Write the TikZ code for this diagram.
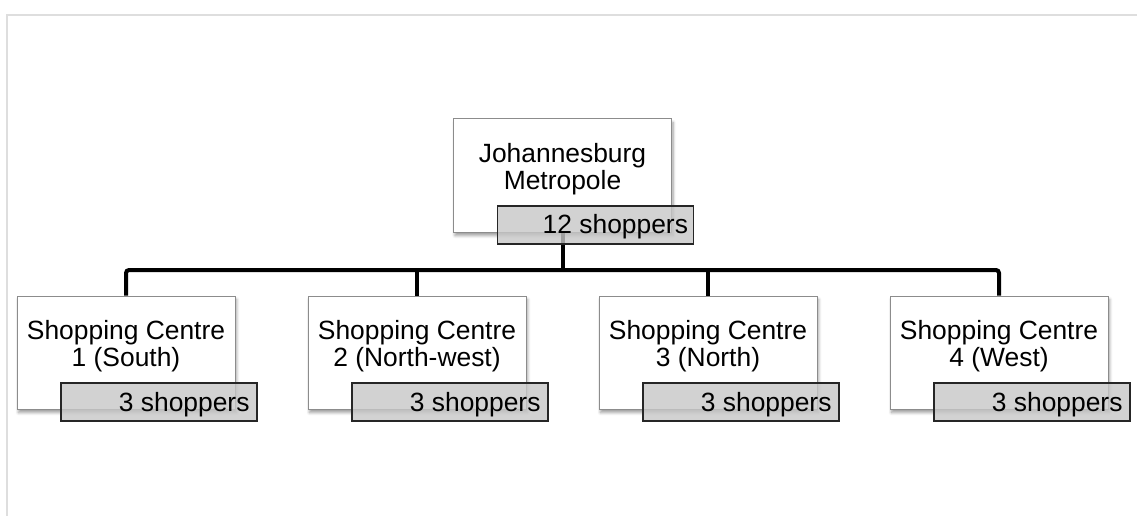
\documentclass[tikz,border=0pt]{standalone}
\usepackage{fontspec}
\setmainfont{Liberation Sans}
\usetikzlibrary{shadows.blur}
\begin{document}
\begin{tikzpicture}[x=1pt,y=-1pt,
  whitebox/.style={draw=black!45, line width=1pt, fill=white, minimum width=218pt, minimum height=113pt, inner sep=0pt,
    blur shadow={shadow xshift=1.5pt, shadow yshift=-3.5pt, shadow opacity=40, shadow blur steps=6, shadow blur radius=3pt}},
  graybox/.style={draw=black!85, line width=1.4pt, fill=black!22, fill opacity=0.8, minimum width=196pt, minimum height=38pt, inner sep=0pt},
  txt/.style={font=\fontsize{26.4}{27}\selectfont, align=center, inner sep=0pt},
  cnt/.style={font=\fontsize{26.4}{27}\selectfont, inner sep=0pt, anchor=base east},
  conn/.style={line width=4pt, black, rounded corners=3pt}
]
\useasboundingbox (0,0) rectangle (1137,516);
\draw[black!13, line width=1.5pt] (1137,15) -- (7,15) -- (7,516);
\coordinate (bar) at (0,270);
% top box
\node[whitebox] (jb) at (562.5,175.5) {};
% bottom boxes
\node[whitebox] (b1) at (126,352.5) {};
\node[whitebox] (b2) at (417,352.5) {};
\node[whitebox] (b3) at (708,352.5) {};
\node[whitebox] (b4) at (999,352.5) {};
% connectors
\draw[conn] (jb.south) -- (jb.south |- bar);
\draw[conn] (b1.north) -- (b1.north |- bar) -- (b4.north |- bar) -- (b4.north);
\draw[conn] (b2.north) -- (b2.north |- bar);
\draw[conn] (b3.north) -- (b3.north |- bar);
% texts (base = baseline of last line)
\node[txt, anchor=base] (jbt) at (562.5,189) {Johannesburg\\Metropole};
\node[txt, anchor=base] (t1) at (126,366) {Shopping Centre\\1 (South)};
\node[txt, anchor=base] (t2) at (417,366) {Shopping Centre\\2 (North-west)};
\node[txt, anchor=base] (t3) at (708,366) {Shopping Centre\\3 (North)};
\node[txt, anchor=base] (t4) at (999,366) {Shopping Centre\\4 (West)};
% gray boxes
\node[graybox] (jbs) at (595.5,225) {};
\node[graybox] (s1) at (159,402) {};
\node[graybox] (s2) at (450,402) {};
\node[graybox] (s3) at (741,402) {};
\node[graybox] (s4) at (1032,402) {};
\node[cnt] (jbc) at ([xshift=-6pt]jbs.east |- 0,233) {12 shoppers};
\node[cnt] (c1) at ([xshift=-8pt]s1.east |- 0,411) {3 shoppers};
\node[cnt] (c2) at ([xshift=-8pt]s2.east |- 0,411) {3 shoppers};
\node[cnt] (c3) at ([xshift=-8pt]s3.east |- 0,411) {3 shoppers};
\node[cnt] (c4) at ([xshift=-8pt]s4.east |- 0,411) {3 shoppers};
\end{tikzpicture}
\end{document}
